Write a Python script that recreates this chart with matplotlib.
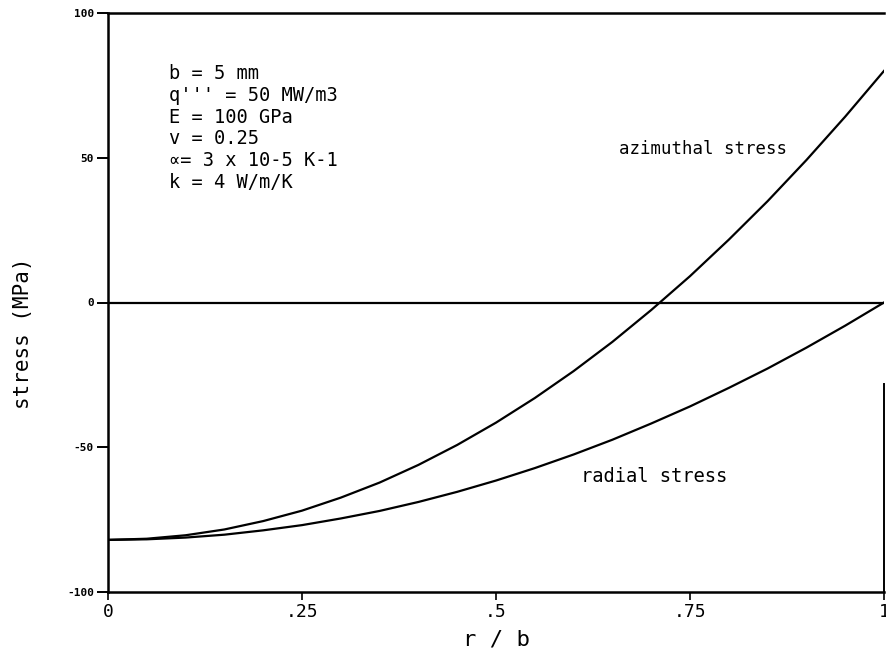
import matplotlib
matplotlib.use("Agg")
import matplotlib.pyplot as plt

# r/b positions
r = [0.0, 0.05, 0.1, 0.15, 0.2, 0.25, 0.3, 0.35, 0.4, 0.45, 0.5,
     0.55, 0.6, 0.65, 0.7, 0.75, 0.8, 0.85, 0.9, 0.95, 1.0]

# azimuthal stress (MPa)
azimuthal = [-82.0, -81.6, -80.4, -78.4, -75.5, -71.9, -67.4, -62.2, -56.1, -49.2, -41.5,
             -33.0, -23.7, -13.6, -2.6, 9.1, 21.7, 35.0, 49.2, 64.2, 80.0]

# radial stress (MPa)
radial = [-82.0, -81.8, -81.2, -80.2, -78.7, -76.9, -74.6, -72.0, -68.9, -65.4, -61.5,
          -57.2, -52.5, -47.4, -41.8, -35.9, -29.5, -22.8, -15.6, -8.0, 0.0]

x_ticks = [0, 0.25, 0.5, 0.75, 1.0]
x_labels = ["0", ".25", ".5", ".75", "1"]
y_ticks = [-100, -50, 0, 50, 100]
y_labels = ["-100", "-50", "0", "50", "100"]

params = ["b = 5 mm", "q''' = 50 MW/m3", "E = 100 GPa", "v = 0.25",
          "\u221d= 3 x 10-5 K-1", "k = 4 W/m/K"]

mono = ["DejaVu Sans Mono", "DejaVu Sans"]

fig = plt.figure(figsize=(8.87, 6.59), dpi=100)
ax = fig.add_axes([108 / 887, 1 - 592 / 659, 776 / 887, 579 / 659])

ax.plot(r, azimuthal, color="black", lw=1.6)
ax.plot(r, radial, color="black", lw=1.6)
ax.axhline(0, color="black", lw=1.6)

ax.set_xlim(0, 1)
ax.set_ylim(-100, 100)

for s in ["left", "bottom", "top"]:
    ax.spines[s].set_linewidth(1.8)
ax.spines["right"].set_linewidth(1.4)
ax.spines["right"].set_bounds(-100, -28)

ax.set_xticks(x_ticks)
ax.set_xticklabels(x_labels, family=mono, fontsize=13)
ax.set_yticks(y_ticks)
ax.set_yticklabels(y_labels, family=mono, fontsize=8, fontweight="bold")
ax.tick_params(axis="x", direction="out", length=6, width=1.2, pad=2)
ax.tick_params(axis="y", direction="out", length=8, width=1.4, pad=2)

ax.set_xlabel("r / b", family=mono, fontsize=16)
ax.xaxis.set_label_coords(0.5, -0.065)
ax.set_ylabel("stress (MPa)", family=mono, fontsize=15)
ax.yaxis.set_label_coords(-0.097, 0.447)

for i, line in enumerate(params):
    ax.text(0.079, 79 - i * 7.5, line, family=mono, fontsize=13.5,
            ha="left", va="center")

ax.text(0.658, 53, "azimuthal stress", family=mono, fontsize=12.5,
        ha="left", va="center")
ax.text(0.61, -60, "radial stress", family=mono, fontsize=13.5,
        ha="left", va="center")

fig.savefig("out.png", dpi=100)
